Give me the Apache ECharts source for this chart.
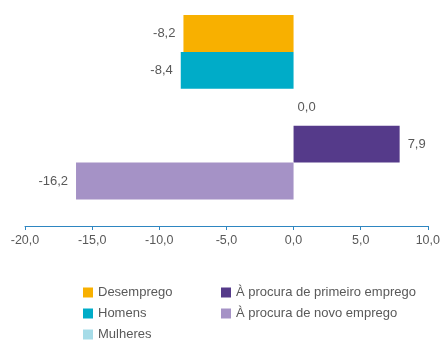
<!DOCTYPE html>
<html>
<head>
<meta charset="utf-8">
<style>
  html, body { margin: 0; padding: 0; background: #fff; }
  #chart { width: 443px; height: 341px; }
</style>
<script src="https://cdn.jsdelivr.net/npm/echarts@6/dist/echarts.min.js"></script>
</head>
<body>
<div id="chart"></div>
<script>
// Variação (p.p.) por indicador
const seriesNames = ['Desemprego', 'Homens', 'Mulheres', 'À procura de primeiro emprego', 'À procura de novo emprego'];
const seriesValues = [-8.2, -8.4, 0.0, 7.9, -16.2];
const seriesColors = ['#F8B000', '#00ACC8', '#A6DCE8', '#553A8A', '#A592C6'];
const axisTicks = [-20, -15, -10, -5, 0, 5, 10];

const fmt = v => Number(v).toFixed(1).replace('.', ',');
const textColor = '#595959';
const font = 'Liberation Sans, Arial, sans-serif';

const chart = echarts.init(document.getElementById('chart'), null, { renderer: 'canvas' });

const series = seriesNames.map((name, i) => ({
  name: name,
  type: 'bar',
  data: [seriesValues[i]],
  barGap: '0%',
  barCategoryGap: '0%',
  itemStyle: { color: seriesColors[i] },
  label: {
    show: true,
    position: seriesValues[i] < 0 ? 'left' : 'right',
    distance: seriesValues[i] === 0 ? 4 : 8,
    color: textColor,
    fontFamily: font,
    fontSize: 13,
    formatter: p => fmt(p.value)
  }
}));

const legendBase = {
  orient: 'vertical',
  top: 286,
  height: 60,
  itemWidth: 10,
  itemHeight: 10,
  itemGap: 8,
  icon: 'rect',
  padding: 0,
  textStyle: { color: textColor, fontFamily: font, fontSize: 13 }
};

chart.setOption({
  animation: false,
  grid: { left: 25, right: 13, top: 15, height: 184.5, containLabel: false },
  xAxis: {
    type: 'value',
    min: axisTicks[0],
    max: axisTicks[axisTicks.length - 1],
    interval: 5,
    offset: 26.5,
    axisLine: { show: true, lineStyle: { color: '#2E86C1', width: 1 } },
    axisTick: { show: true, length: 4, lineStyle: { color: '#2E86C1' } },
    splitLine: { show: false },
    axisLabel: { color: textColor, fontFamily: font, fontSize: 12.5, margin: 8, formatter: v => fmt(v) }
  },
  yAxis: {
    type: 'category',
    data: [''],
    inverse: true,
    axisLine: { show: false },
    axisTick: { show: false },
    axisLabel: { show: false }
  },
  legend: [
    Object.assign({}, legendBase, { data: seriesNames.slice(0, 3), left: 83 }),
    Object.assign({}, legendBase, { data: seriesNames.slice(3), left: 221 })
  ],
  series: series
});
</script>
</body>
</html>
